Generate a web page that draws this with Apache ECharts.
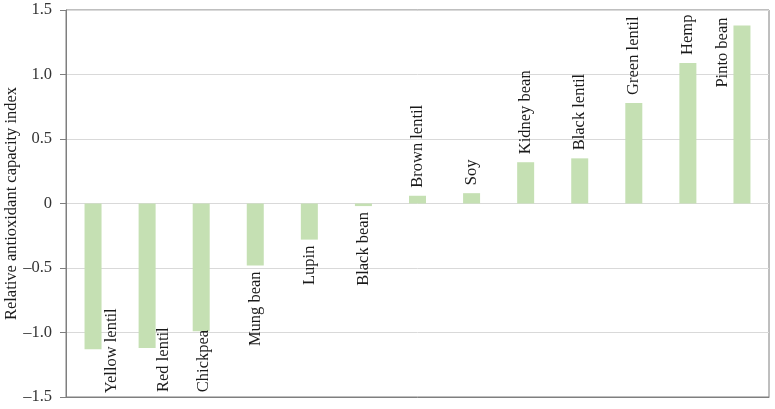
<!DOCTYPE html>
<html lang="en">

<head>
    <meta charset="UTF-8">
    <title>Relative antioxidant capacity index</title>
    <script src="https://cdn.jsdelivr.net/npm/echarts@6/dist/echarts.min.js"></script>
    <style>
        html, body { margin: 0; padding: 0; background: #fff; }
    </style>
</head>

<body>
    <div id="chart" style="width:775px;height:409px;"></div>
    <script>
        // data
        const categories = ['Yellow lentil', 'Red lentil', 'Chickpea', 'Mung bean', 'Lupin', 'Black bean',
            'Brown lentil', 'Soy', 'Kidney bean', 'Black lentil', 'Green lentil', 'Hemp', 'Pinto bean'];
        const values = [-1.13, -1.12, -0.99, -0.48, -0.28, -0.02, 0.06, 0.08, 0.32, 0.35, 0.78, 1.09, 1.38];
        const yTicks = [-1.5, -1.0, -0.5, 0, 0.5, 1.0, 1.5];

        // labels that were nudged by hand in the original (offset is in the rotated text frame)
        const labelTweaks = {
            'Yellow lentil': { align: 'left', offset: [-38, 19] },
            'Red lentil': { align: 'left', offset: [-38, 17] },
            'Chickpea': { align: 'left', offset: [-55, 2] },
            'Pinto bean': { align: 'right', offset: [0, -19] }
        };

        const font = '"Liberation Serif", "Times New Roman", serif';

        const fmtTick = function (v) {
            if (v === 0) return '0';
            return v.toFixed(1).replace('-', '\u2013');
        };

        const barData = values.map(function (v, i) {
            const label = v < 0
                ? { position: 'bottom', align: 'right', distance: 6 }
                : { position: 'top', align: 'left', distance: 8 };
            Object.assign(label, labelTweaks[categories[i]] || {});
            return { value: v, label: label };
        });

        const chart = echarts.init(document.getElementById('chart'));
        chart.setOption({
            animation: false,
            grid: {
                left: 66, right: 6, top: 10, bottom: 12,
                containLabel: false,
                outerBoundsMode: 'none',
                show: true, borderColor: '#7f7f7f', borderWidth: 1
            },
            xAxis: {
                type: 'category',
                data: categories,
                axisLine: { show: true, onZero: false, lineStyle: { color: '#7f7f7f' } },
                axisTick: { show: false },
                axisLabel: { show: false },
                splitLine: { show: false }
            },
            yAxis: {
                type: 'value',
                min: yTicks[0],
                max: yTicks[yTicks.length - 1],
                interval: 0.5,
                name: 'Relative antioxidant capacity index',
                nameLocation: 'middle',
                nameGap: 46,
                nameMoveOverlap: false,
                nameTextStyle: { fontFamily: font, fontSize: 16.5, color: '#1a1a1a' },
                axisLine: { show: true, lineStyle: { color: '#7f7f7f' } },
                axisTick: { show: true, length: 6, lineStyle: { color: '#7f7f7f' } },
                axisLabel: {
                    margin: 14,
                    fontFamily: font, fontSize: 16.5, color: '#333',
                    formatter: fmtTick
                },
                splitLine: { lineStyle: { color: '#d9d9d9' } }
            },
            series: [{
                type: 'bar',
                data: barData,
                barWidth: 17,
                itemStyle: { color: '#c5e0b3' },
                label: {
                    show: true,
                    rotate: 90,
                    verticalAlign: 'middle',
                    fontFamily: font,
                    fontSize: 16.5,
                    color: '#1a1a1a',
                    formatter: function (p) { return p.name; }
                }
            }]
        });
    </script>
</body>

</html>
